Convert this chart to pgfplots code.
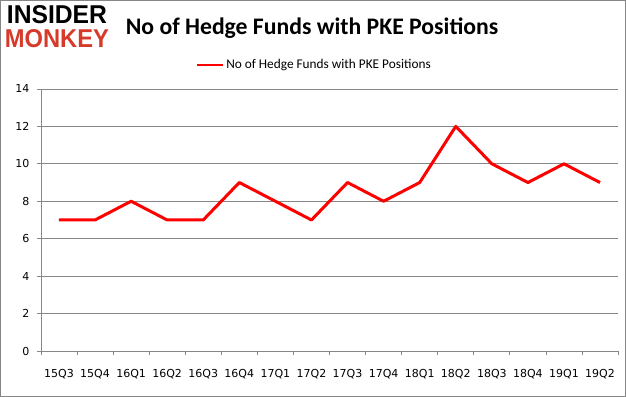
\documentclass[border=0pt]{standalone}
\usepackage{pgfplots}
\pgfplotsset{compat=1.18}
\usepackage{fontspec}
\setmainfont{Carlito}
\newfontfamily\tickfont{DejaVu Sans}
\newfontfamily\logofont{Liberation Sans}
\definecolor{gridgray}{RGB}{134,134,134}
\definecolor{monkeyred}{RGB}{214,58,42}
\begin{document}
\begin{tikzpicture}[x=1pt,y=1pt]
\draw[gridgray, line width=0.8pt] (0.5,0.5) rectangle (625.5,396.5);
\node[anchor=center, inner sep=0] at (57,382) {\resizebox{100pt}{18pt}{\logofont\bfseries INSIDER}};
\node[anchor=center, inner sep=0, text=monkeyred] at (57,358) {\resizebox{104pt}{18pt}{\logofont\bfseries MONKEY}};
\node[anchor=center, font=\bfseries\fontsize{23.7}{28}\selectfont] at (312,369) {No of Hedge Funds with PKE Positions};
\begin{axis}[
  at={(41pt,46pt)}, anchor=south west,
  scale only axis, width=577pt, height=262pt,
  xmin=-0.5, xmax=15.5, ymin=0, ymax=14,
  axis x line*=bottom, axis y line*=left,
  axis line style={gridgray, line width=0.8pt, -},
  xtick={-0.5,0.5,...,15.5},
  x tick label as interval,
  xticklabels={15Q3,15Q4,16Q1,16Q2,16Q3,16Q4,17Q1,17Q2,17Q3,17Q4,18Q1,18Q2,18Q3,18Q4,19Q1,19Q2},
  ytick={0,2,...,14},
  ymajorgrids, grid style={gridgray, line width=0.8pt},
  tick align=outside, major tick length=4pt,
  tick style={gridgray, line width=0.8pt},
  tick label style={font=\tickfont\fontsize{11}{13}\selectfont, text=black},
  xticklabel style={yshift=-11pt},
  yticklabel style={xshift=-4pt},
  /pgf/number format/assume math mode=true,
  legend style={at={(0.474,1.093)}, anchor=center, draw=none, fill=none, font=\fontsize{13.3}{15}\selectfont, legend columns=1},
  legend image code/.code={\draw[#1, line width=2pt] (0pt,0pt) -- (26pt,0pt);},
]
\addplot[red, line width=3pt, line join=round] coordinates {
(0,7) (1,7) (2,8) (3,7) (4,7) (5,9) (6,8) (7,7) (8,9) (9,8) (10,9) (11,12) (12,10) (13,9) (14,10) (15,9)};
\addlegendentry{No of Hedge Funds with PKE Positions}
\end{axis}
\end{tikzpicture}
\end{document}
